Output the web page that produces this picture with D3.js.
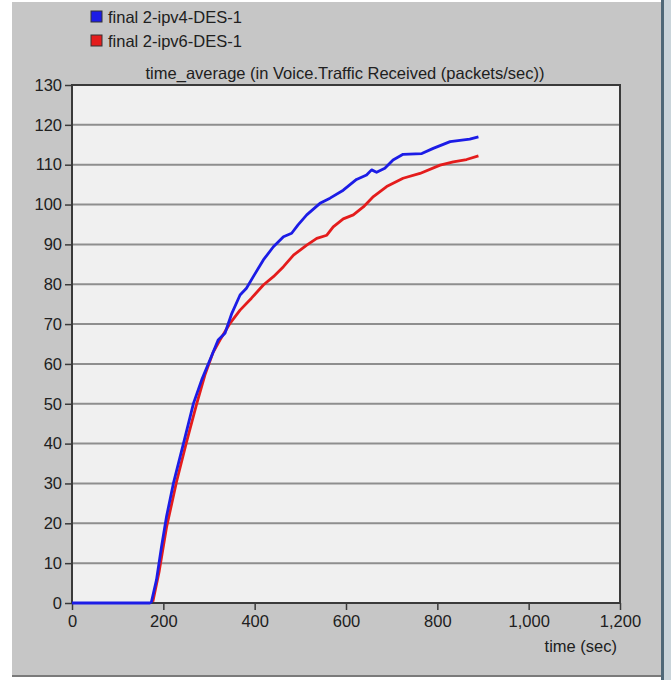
<!DOCTYPE html>
<html>
<head>
<meta charset="utf-8">
<script src="https://cdn.jsdelivr.net/npm/d3@7"></script>
<style>
  html, body { margin: 0; padding: 0; background: #fff; }
  svg { display: block; font-family: "Liberation Sans", Arial, sans-serif; }
</style>
</head>
<body>
<svg id="chart" width="671" height="680"></svg>
<script>
// series names
const seriesNames = ['final 2-ipv4-DES-1', 'final 2-ipv6-DES-1']

// ipv4 (blue) - time (sec) and packets/sec
const ipv4Time = [0, 60, 120, 170, 174, 185, 196, 207, 222, 244, 266, 284, 302, 320, 335, 350, 368, 382,
  397, 419, 441, 463, 481, 495, 514, 543, 565, 594, 623, 645, 656, 667, 685, 703, 725, 766, 791, 828, 871, 890]
const ipv4Vals = [0, 0, 0, 0, 0.3, 5.8, 14.1, 21.7, 30, 40, 50.1, 56, 61, 66, 67.7, 72.7, 77.3, 79,
  81.9, 86.1, 89.4, 91.9, 92.8, 94.9, 97.4, 100.3, 101.6, 103.6, 106.3, 107.4, 108.7, 108.1, 109.1, 111.2, 112.6, 112.8, 114.1, 115.8, 116.4, 117]

// ipv6 (red)
const ipv6Time = [177, 191, 207, 229, 251, 273, 291, 309, 324, 346, 368, 393, 419, 441, 463, 485, 514, 536,
  558, 572, 594, 616, 638, 660, 689, 725, 762, 806, 835, 864, 890]
const ipv6Vals = [0.3, 8, 19, 30.5, 40.5, 50, 57.2, 62.9, 66, 70.2, 73.5, 76.5, 79.8, 81.9, 84.4, 87.3, 89.8, 91.5,
  92.3, 94.4, 96.4, 97.4, 99.4, 102, 104.5, 106.6, 107.8, 109.9, 110.7, 111.3, 112.2]

const xTicks = [0, 200, 400, 600, 800, 1000, 1200]
const yTicks = [0, 10, 20, 30, 40, 50, 60, 70, 80, 90, 100, 110, 120, 130]

const title = 'time_average (in Voice.Traffic Received (packets/sec))'
const xLabel = 'time (sec)'

const COLORS = ['#1c1ce6', '#e41c1c']
const PLOT = { LEFT: 72, RIGHT: 620, TOP: 85, BOTTOM: 603 }
const FONT = 16.5
const TEXT = '#202020'

const svg = d3.select('#chart')

// window panel
svg.append('rect').attr('x', 12).attr('y', 2).attr('width', 649).attr('height', 674).attr('fill', '#c6c6c6')
svg.append('rect').attr('x', 12).attr('y', 675).attr('width', 649).attr('height', 2).attr('fill', '#7a7a7a')
svg.append('rect').attr('x', 661).attr('y', 0).attr('width', 3).attr('height', 680).attr('fill', '#4e6878')
svg.append('rect').attr('x', 664).attr('y', 0).attr('width', 7).attr('height', 680).attr('fill', '#c9d4da')

const x = d3.scaleLinear().domain([0, 1200]).range([PLOT.LEFT, PLOT.RIGHT])
const y = d3.scaleLinear().domain([0, 130]).range([PLOT.BOTTOM, PLOT.TOP])

// plot background
svg.append('rect')
  .attr('x', PLOT.LEFT).attr('y', PLOT.TOP)
  .attr('width', PLOT.RIGHT - PLOT.LEFT).attr('height', PLOT.BOTTOM - PLOT.TOP)
  .attr('fill', '#f0f0f0')

// horizontal grid
svg.append('g')
  .selectAll('line')
  .data(yTicks.slice(1, -1))
  .join('line')
  .attr('x1', PLOT.LEFT).attr('x2', PLOT.RIGHT)
  .attr('y1', d => y(d)).attr('y2', d => y(d))
  .attr('stroke', '#8e8e8e').attr('stroke-width', 2)

// border
svg.append('rect')
  .attr('x', PLOT.LEFT).attr('y', PLOT.TOP)
  .attr('width', PLOT.RIGHT - PLOT.LEFT).attr('height', PLOT.BOTTOM - PLOT.TOP)
  .attr('fill', 'none').attr('stroke', '#3a3a3a').attr('stroke-width', 2)

// axes
const yAxis = d3.axisLeft(y).tickValues(yTicks).tickSize(7).tickPadding(3).tickFormat(d3.format('d'))
const xAxis = d3.axisBottom(x).tickValues(xTicks).tickSize(7).tickPadding(5).tickFormat(d3.format(','))

const gy = svg.append('g').attr('transform', `translate(${PLOT.LEFT},0)`).call(yAxis)
const gx = svg.append('g').attr('transform', `translate(0,${PLOT.BOTTOM})`).call(xAxis)
;[gx, gy].forEach(g => {
  g.select('.domain').remove()
  g.selectAll('line').attr('stroke', '#3a3a3a').attr('stroke-width', 1.5)
  g.selectAll('text').attr('fill', TEXT).attr('font-size', FONT)
    .attr('font-family', '"Liberation Sans", Arial, sans-serif')
})

// lines
const line = d3.line().x(d => x(d[0])).y(d => y(d[1]))
const series = [
  d3.zip(ipv6Time, ipv6Vals),
  d3.zip(ipv4Time, ipv4Vals)
]
svg.append('g')
  .selectAll('path')
  .data(series)
  .join('path')
  .attr('d', line)
  .attr('fill', 'none')
  .attr('stroke', (d, i) => i === 0 ? COLORS[1] : COLORS[0])
  .attr('stroke-width', 2.8)
  .attr('stroke-linejoin', 'round')

// title
svg.append('text')
  .attr('x', 345).attr('y', 79)
  .attr('text-anchor', 'middle')
  .attr('font-size', FONT).attr('fill', TEXT)
  .text(title)

svg.append('text')
  .attr('x', 617).attr('y', 652)
  .attr('text-anchor', 'end')
  .attr('font-size', FONT).attr('fill', TEXT)
  .text(xLabel)

// legend
const legend = svg.append('g')
  .selectAll('g')
  .data(seriesNames)
  .join('g')
  .attr('transform', (d, i) => `translate(91,${11 + i * 24})`)
legend.append('rect')
  .attr('width', 11).attr('height', 11)
  .attr('fill', (d, i) => COLORS[i])
  .attr('stroke', '#333').attr('stroke-width', 1)
legend.append('text')
  .attr('x', 17).attr('y', 12)
  .attr('font-size', FONT).attr('fill', TEXT)
  .text(d => d)
</script>
</body>
</html>
